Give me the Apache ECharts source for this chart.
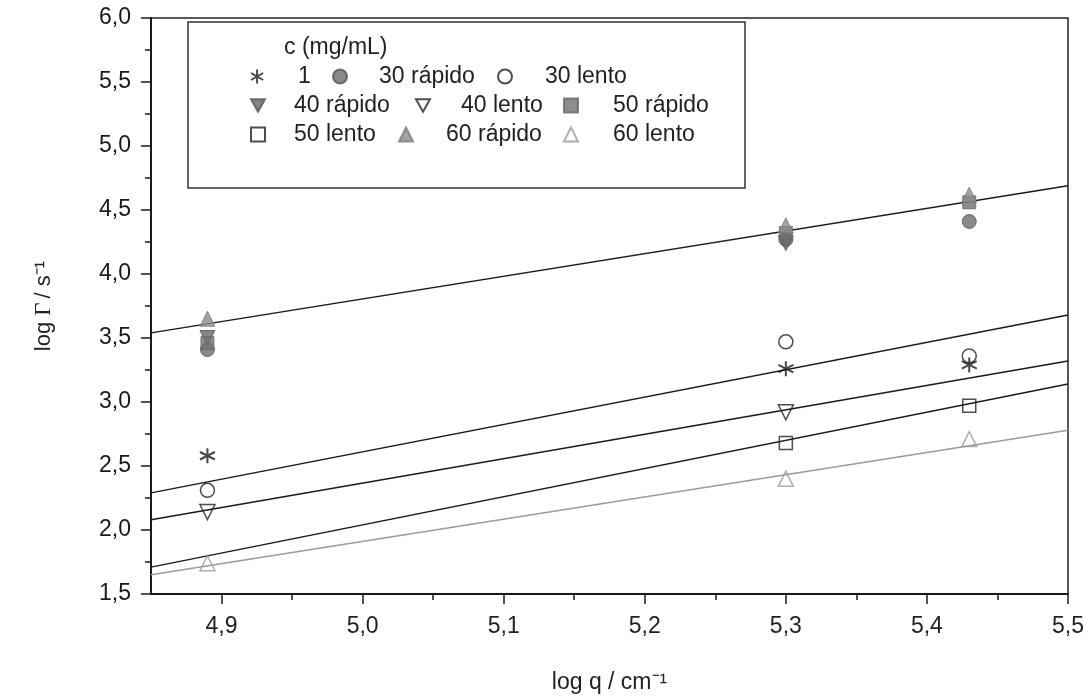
<!DOCTYPE html>
<html>
<head>
<meta charset="utf-8">
<script src="https://cdn.jsdelivr.net/npm/echarts@6/dist/echarts.min.js"></script>
<style>
  html, body { margin: 0; padding: 0; background: #fff; }
  #chart { width: 1092px; height: 699px; }
</style>
</head>
<body>
<div id="chart"></div>
<script>
// log q positions of the three measurement groups
var xVals = [4.89, 5.30, 5.43];

// log Gamma values per concentration / regime (null = not shown)
var c1       = [2.58, 3.26, 3.29];
var rap30    = [3.41, 4.27, 4.41];
var len30    = [2.31, 3.47, 3.36];
var rap40    = [3.50, 4.24, null];
var len40    = [2.14, 2.92, null];
var rap50    = [3.46, 4.32, 4.56];
var len50    = [null, 2.68, 2.97];
var rap60    = [3.65, 4.38, 4.62];
var len60    = [1.74, 2.40, 2.71];

// fitted straight lines, value at x = 4.85 and x = 5.5
var fitX     = [4.85, 5.5];
var fitRap   = [3.54, 4.69];
var fitTop   = [2.29, 3.68];
var fitMid   = [2.08, 3.32];
var fitLow   = [1.71, 3.14];
var fitLen60 = [1.65, 2.78];

var xTicks = [4.9, 5.0, 5.1, 5.2, 5.3, 5.4, 5.5];
var xMinor = [4.95, 5.05, 5.15, 5.25, 5.35, 5.45];

var FONT = '"Liberation Sans", Arial, sans-serif';
var ASTER = 'path://M10,0 L10,20 M1.3,5 L18.7,15 M1.3,15 L18.7,5';
var DOWNTRI = 'path://M0,0 L20,0 L10,18 Z';
var OPEN = 'rgba(255,255,255,0)';

function pts(vals) {
    return xVals.map(function (x, i) { return vals[i] == null ? null : [x, vals[i]]; })
        .filter(function (p) { return p; });
}
function fit(vals) {
    return [[fitX[0], vals[0]], [fitX[1], vals[1]]];
}
function comma(v) { return v.toFixed(1).replace('.', ','); }

var markers = [
    { name: '1',         data: c1,    symbol: ASTER,      size: 15, style: { color: OPEN, borderColor: '#1a1a1a', borderWidth: 2 } },
    { name: '30 rápido', data: rap30, symbol: 'circle',   size: 14, style: { color: '#6b6b6b', borderColor: '#555', borderWidth: 1 } },
    { name: '30 lento',  data: len30, symbol: 'circle',   size: 14, style: { color: OPEN, borderColor: '#222', borderWidth: 1.5 } },
    { name: '40 rápido', data: rap40, symbol: DOWNTRI,    size: 15, style: { color: '#666', borderColor: '#555', borderWidth: 1 } },
    { name: '40 lento',  data: len40, symbol: DOWNTRI,    size: 15, style: { color: OPEN, borderColor: '#222', borderWidth: 1.5 } },
    { name: '50 rápido', data: rap50, symbol: 'rect',     size: 13, style: { color: '#707070', borderColor: '#666', borderWidth: 1 } },
    { name: '50 lento',  data: len50, symbol: 'rect',     size: 13, style: { color: OPEN, borderColor: '#222', borderWidth: 1.5 } },
    { name: '60 rápido', data: rap60, symbol: 'triangle', size: 15, style: { color: '#8c8c8c', borderColor: '#7a7a7a', borderWidth: 1 } },
    { name: '60 lento',  data: len60, symbol: 'triangle', size: 15, style: { color: OPEN, borderColor: '#9a9a9a', borderWidth: 1.5 } }
];

// legend layout: icon centre x, text start x, row centre y
var legIconX = [257, 339, 504, 257, 422, 570, 257, 405, 570];
var legTextX = [298, 378, 544, 293, 460, 612, 293, 445, 612];
var legRowY  = [78, 78, 78, 107, 107, 107, 136, 136, 136];

var series = [];
[fitRap, fitTop, fitMid, fitLow, fitLen60].forEach(function (f, i) {
    series.push({
        type: 'line', data: fit(f), symbol: 'none', silent: true, z: 1,
        lineStyle: { color: i === 4 ? '#9a9a9a' : '#1a1a1a', width: 1.5 }
    });
});
markers.forEach(function (m) {
    series.push({
        type: 'scatter', name: m.name, data: pts(m.data),
        symbol: m.symbol, symbolSize: m.size, itemStyle: m.style, z: 3
    });
});

var legends = markers.map(function (m, i) {
    var iw = 14;
    return {
        data: [m.name], selectedMode: false, orient: 'horizontal', z: 10,
        left: legIconX[i] - iw / 2, top: legRowY[i] - 13, padding: 0,
        itemWidth: iw, itemHeight: 14,
        textStyle: { fontFamily: FONT, fontSize: 23, color: '#222',
                     padding: [0, 0, 0, legTextX[i] - legIconX[i] - iw / 2 - 5] }
    };
});

var option = {
    backgroundColor: '#fff',
    animation: false,
    grid: { left: 151, right: 24, top: 18, bottom: 103, show: true, borderColor: '#222', borderWidth: 1.5 },
    legend: legends,
    graphic: [
        { type: 'rect', shape: { x: 188, y: 22, width: 557, height: 166 }, silent: true,
          style: { fill: 'none', stroke: '#333', lineWidth: 1.5 }, z: 2 },
        { type: 'text', left: 284, top: 36, z: 6,
          style: { text: 'c (mg/mL)', font: '23px ' + FONT, fill: '#222' } }
    ],
    xAxis: [{
        type: 'value', min: 4.85, max: 5.5,
        axisLine: { lineStyle: { color: '#1a1a1a', width: 2 } },
        axisTick: { customValues: xTicks, length: 10, lineStyle: { color: '#1a1a1a', width: 1.5 } },
        axisLabel: { customValues: xTicks, formatter: comma, margin: 21,
                     fontFamily: FONT, fontSize: 23, color: '#222' },
        splitLine: { show: false },
        name: 'log q / cm⁻¹', nameLocation: 'middle', nameGap: 77,
        nameTextStyle: { fontFamily: FONT, fontSize: 23, color: '#222' }
    }, {
        type: 'value', min: 4.85, max: 5.5, position: 'bottom',
        axisLine: { show: false },
        axisTick: { customValues: xMinor, length: 6, lineStyle: { color: '#1a1a1a', width: 1.5 } },
        axisLabel: { show: false }, splitLine: { show: false }
    }],
    yAxis: {
        type: 'value', min: 1.5, max: 6.0, interval: 0.5,
        axisLine: { show: true, lineStyle: { color: '#1a1a1a', width: 2 } },
        axisTick: { show: true, length: 10, lineStyle: { color: '#1a1a1a', width: 1.5 } },
        minorTick: { show: true, splitNumber: 2, length: 6, lineStyle: { color: '#1a1a1a', width: 1.5 } },
        axisLabel: { formatter: comma, margin: 20, fontFamily: FONT, fontSize: 23, color: '#1a1a1a' },
        splitLine: { show: false },
        name: '{a|log }{g|Γ}{a|/ s⁻¹}', nameLocation: 'middle', nameGap: 96, nameRotate: 90,
        nameTextStyle: {
            fontFamily: FONT, fontSize: 22, color: '#222',
            rich: {
                a: { fontFamily: FONT, fontSize: 22, color: '#222' },
                g: { fontFamily: '"Liberation Serif", "DejaVu Serif", serif', fontSize: 23, color: '#222', padding: [0, 4, 0, 0] }
            }
        }
    },
    series: series
};

var myChart = echarts.init(document.getElementById('chart'));
myChart.setOption(option);
</script>
</body>
</html>
